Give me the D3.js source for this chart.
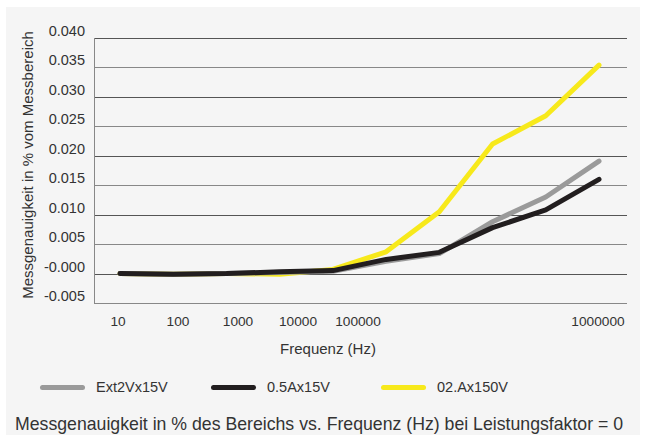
<!DOCTYPE html>
<html>
<head>
<meta charset="utf-8">
<script src="https://cdn.jsdelivr.net/npm/d3@7"></script>
<style>
  body { margin: 0; background: #ffffff; }
  svg text { font-family: "Liberation Sans", Arial, sans-serif; fill: #333; }
</style>
</head>
<body>
<div id="chart"></div>
<script>
// data
var points = [0, 1, 2, 3, 4, 5, 6, 7, 8, 9];
var ext2V = [0.0000, -0.0001, 0.0000, 0.0002, 0.0004, 0.0021, 0.0034, 0.0088, 0.0130, 0.0191];
var a05 = [0.0000, -0.0001, 0.0000, 0.0003, 0.0005, 0.0024, 0.0036, 0.0078, 0.0108, 0.0160];
var a02 = [0.0000, -0.0001, 0.0000, -0.0001, 0.0007, 0.0037, 0.0105, 0.0220, 0.0268, 0.0354];

var yTicks = [-0.005, 0, 0.005, 0.010, 0.015, 0.020, 0.025, 0.030, 0.035, 0.040];
var yLabels = ["-0.005", "-0.000", "0.005", "0.010", "0.015", "0.020", "0.025", "0.030", "0.035", "0.040"];
var xTicks = [0, 1, 2, 3, 4, 8];
var xLabels = ["10", "100", "1000", "10000", "100000", "", "", "", "1000000"];

var seriesNames = ["Ext2Vx15V", "0.5Ax15V", "02.Ax150V"];
var seriesColors = ["#9a9a9a", "#221e1f", "#f7e91b"];

var W = 646, H = 441;
var margin = {top: 38, right: 19, bottom: 138, left: 94},
    width = W - margin.left - margin.right,
    height = H - margin.top - margin.bottom;

var svg = d3.select("#chart").append("svg")
    .attr("width", W).attr("height", H);

// panel background
svg.append("rect")
    .attr("x", 6).attr("y", 7)
    .attr("width", 634).attr("height", 428)
    .attr("fill", "#f5f5f5");

var g = svg.append("g")
    .attr("transform", "translate(" + margin.left + "," + margin.top + ")");

var y = d3.scaleLinear().domain([-0.005, 0.040]).range([height, 0]);
var x = d3.scaleLinear().domain([0, 9]).range([26, 505]);       // data points
var xt = d3.scaleLinear().domain([0, 8]).range([24, 504]);      // tick labels

// grid
g.selectAll(".grid").data(yTicks).enter()
  .append("line")
    .attr("x1", 0).attr("x2", width)
    .attr("y1", function(d) { return Math.round(y(d)) + 0.5; })
    .attr("y2", function(d) { return Math.round(y(d)) + 0.5; })
    .attr("stroke", function(d, i) { return i % 2 ? "#555" : "#888"; })
    .attr("stroke-width", 1);

// left axis line
g.append("line")
    .attr("x1", 0.5).attr("x2", 0.5)
    .attr("y1", 0).attr("y2", height + 0.5)
    .attr("stroke", "#888");

// y labels
g.selectAll(".ylab").data(yTicks).enter()
  .append("text")
    .attr("x", -9)
    .attr("y", function(d) { return y(d) - 2; })
    .attr("text-anchor", "end")
    .attr("font-size", "14.5px")
    .text(function(d, i) { return yLabels[i]; });

// x labels
g.selectAll(".xlab").data(xTicks).enter()
  .append("text")
    .attr("x", function(d) { return xt(d); })
    .attr("y", height + 23)
    .attr("text-anchor", "middle")
    .attr("font-size", "13.7px")
    .text(function(d) { return xLabels[d]; });

// lines
var line = function(vals) {
  return d3.line()
    .x(function(d) { return x(d); })
    .y(function(d) { return y(vals[d]); })(points);
};
var drawOrder = [2, 0, 1];
var allVals = [ext2V, a05, a02];
drawOrder.forEach(function(k) {
  g.append("path")
    .attr("d", line(allVals[k]))
    .attr("fill", "none")
    .attr("stroke", seriesColors[k])
    .attr("stroke-width", 5)
    .attr("stroke-linecap", "round")
    .attr("stroke-linejoin", "round");
});

// axis titles
svg.append("text")
    .attr("transform", "translate(33,165) rotate(-90)")
    .attr("text-anchor", "middle")
    .attr("font-size", "15px")
    .text("Messgenauigkeit in % vom Messbereich");

svg.append("text")
    .attr("x", 328).attr("y", 354)
    .attr("text-anchor", "middle")
    .attr("font-size", "15px")
    .text("Frequenz (Hz)");

// legend
var legX = [40, 211, 381];
seriesNames.forEach(function(name, i) {
  svg.append("line")
    .attr("x1", legX[i] + 2.5).attr("x2", legX[i] + 42.5)
    .attr("y1", 387.5).attr("y2", 387.5)
    .attr("stroke", seriesColors[i])
    .attr("stroke-width", 5)
    .attr("stroke-linecap", "round");
  svg.append("text")
    .attr("x", legX[i] + 56).attr("y", 392)
    .attr("font-size", "14.5px")
    .text(name);
});

// caption
svg.append("text")
    .attr("x", 15).attr("y", 430)
    .attr("font-size", "17.7px")
    .text("Messgenauigkeit in % des Bereichs vs. Frequenz (Hz) bei Leistungsfaktor = 0");
</script>
</body>
</html>
